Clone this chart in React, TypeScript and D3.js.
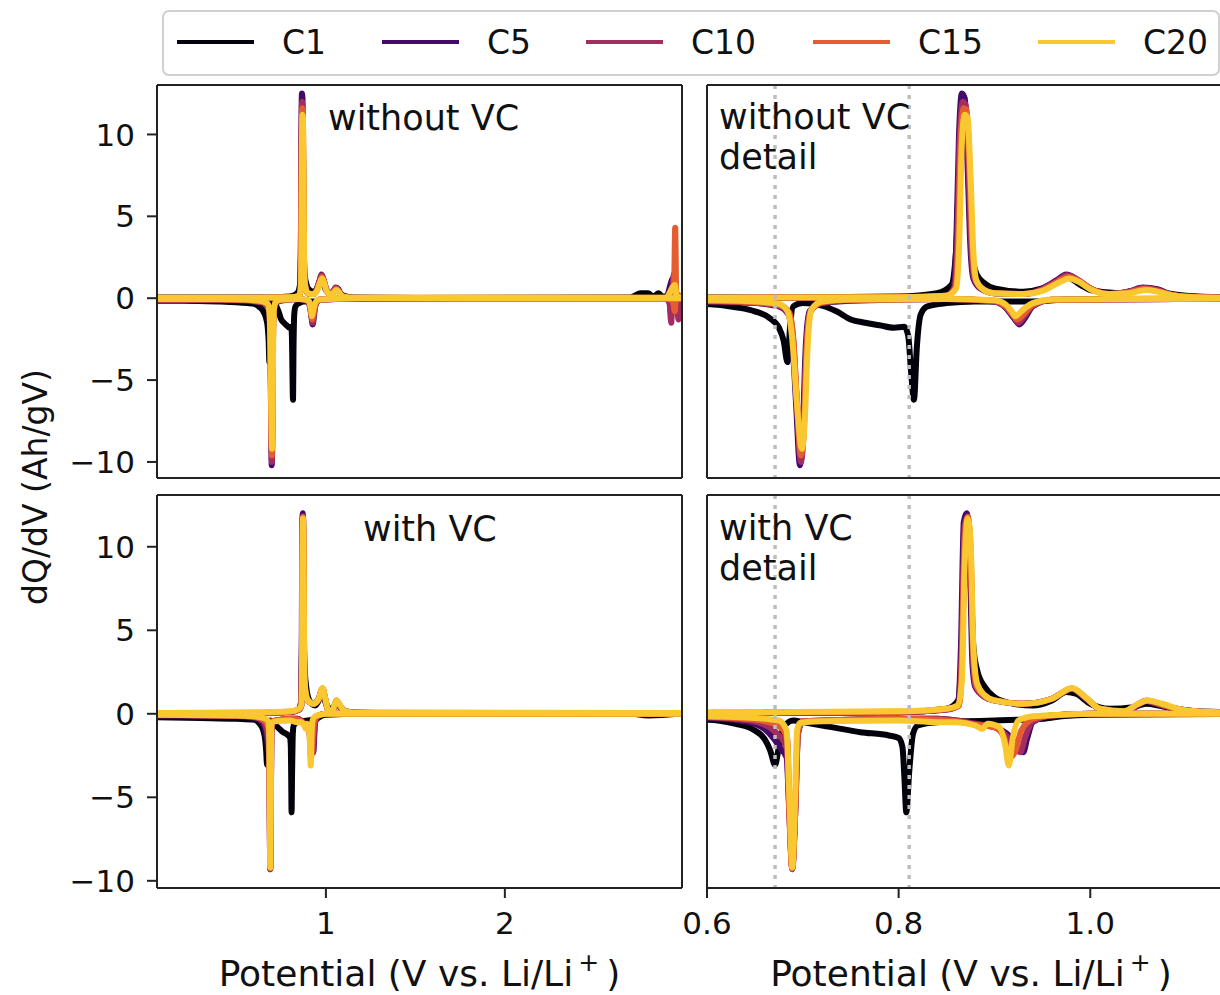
import React from 'react';
import * as d3 from 'd3';

type Pt = [number, number];

// ---------------- data ----------------
const CYCLES = ['C1', 'C5', 'C10', 'C15', 'C20'];
const Y_TICKS = [-10, -5, 0, 5, 10];
const X_TICKS_FULL = [1, 2];
const X_TICKS_DETAIL = [0.6, 0.8, 1.0];
const MARKER_LINES = [0.671, 0.811];

// without VC, discharge (negative) and charge (positive) branches
const noVC_C1_dis: Pt[] = [[0.056,-0.15],[0.2,-0.15],[0.4,-0.2],[0.5,-0.25],[0.56,-0.3],[0.6,-0.35],[0.63,-0.55],[0.65,-0.8],[0.665,-1.2],[0.675,-1.8],[0.68,-2.6],[0.684,-3.9],[0.687,-1.5],[0.69,-0.5],[0.7,-0.3],[0.72,-0.45],[0.735,-0.8],[0.75,-1.3],[0.765,-1.5],[0.78,-1.65],[0.795,-1.8],[0.806,-1.75],[0.81,-2.3],[0.813,-4.5],[0.816,-6.2],[0.819,-3.0],[0.823,-1.0],[0.83,-0.5],[0.85,-0.3],[0.88,-0.2],[0.91,-0.2],[0.94,-0.2],[0.97,-0.1],[1.0,-0.05],[1.2,-0.03],[2.0,0],[2.99,0]];
const noVC_C1_chg: Pt[] = [[0.056,0.05],[0.5,0.05],[0.7,0.05],[0.8,0.1],[0.84,0.3],[0.855,0.8],[0.86,3],[0.864,9],[0.868,11.2],[0.872,9],[0.875,4],[0.878,2.2],[0.882,1.4],[0.89,0.9],[0.9,0.6],[0.93,0.4],[0.95,0.6],[0.965,1.0],[0.975,1.3],[0.99,0.8],[1.0,0.5],[1.03,0.3],[1.05,0.5],[1.065,0.5],[1.08,0.3],[1.1,0.15],[1.15,0.05],[1.5,0.02],[2.7,0.05],[2.76,0.3],[2.8,0.3],[2.83,0.1],[2.86,0.3],[2.88,0.1],[2.99,0.1]];
const noVC_C5_dis: Pt[] = [[0.056,-0.1],[0.4,-0.1],[0.55,-0.15],[0.6,-0.2],[0.65,-0.3],[0.675,-0.5],[0.685,-1.0],[0.689,-2.5],[0.693,-6.5],[0.697,-10.2],[0.7,-8],[0.703,-3],[0.707,-0.8],[0.72,-0.3],[0.75,-0.15],[0.85,-0.05],[0.9,-0.2],[0.912,-0.6],[0.92,-1.2],[0.926,-1.6],[0.932,-1.2],[0.94,-0.5],[0.96,-0.1],[1.2,0],[2.9,0],[2.92,-0.2],[2.93,-1.0],[2.935,-0.2],[2.99,0]];
const noVC_C5_chg: Pt[] = [[0.056,0.02],[0.6,0.02],[0.8,0.05],[0.85,0.15],[0.857,0.6],[0.86,3],[0.863,10],[0.866,12.5],[0.869,12.2],[0.872,8],[0.875,3],[0.878,1.2],[0.885,0.6],[0.9,0.3],[0.93,0.25],[0.95,0.6],[0.965,1.1],[0.975,1.45],[0.985,1.2],[1.0,0.6],[1.02,0.25],[1.04,0.4],[1.055,0.65],[1.07,0.55],[1.085,0.2],[1.1,0.1],[1.15,0.02],[2.9,0.02],[2.94,1.2],[2.95,0.1],[2.99,0.05]];
const noVC_C10_dis: Pt[] = [[0.056,-0.1],[0.4,-0.1],[0.55,-0.12],[0.6,-0.18],[0.65,-0.28],[0.675,-0.45],[0.686,-1.0],[0.69,-2.5],[0.694,-6.5],[0.698,-10.0],[0.701,-8],[0.704,-3],[0.708,-0.8],[0.72,-0.3],[0.75,-0.12],[0.85,-0.05],[0.9,-0.2],[0.912,-0.55],[0.92,-1.1],[0.925,-1.5],[0.931,-1.1],[0.94,-0.45],[0.96,-0.1],[1.2,0],[2.9,0],[2.92,-0.3],[2.93,-1.5],[2.935,-0.2],[2.96,-0.1],[2.97,-1.3],[2.975,-0.1],[2.99,0]];
const noVC_C10_chg: Pt[] = [[0.056,0.02],[0.6,0.02],[0.8,0.05],[0.85,0.15],[0.858,0.6],[0.861,3],[0.864,10],[0.867,12.0],[0.87,11.8],[0.873,8],[0.876,3],[0.879,1.2],[0.886,0.6],[0.9,0.3],[0.93,0.25],[0.95,0.55],[0.965,1.05],[0.976,1.4],[0.986,1.15],[1.0,0.6],[1.02,0.25],[1.04,0.4],[1.056,0.62],[1.07,0.5],[1.085,0.2],[1.1,0.1],[1.15,0.02],[2.9,0.02],[2.935,0.5],[2.945,1.5],[2.955,0.2],[2.99,0.1]];
const noVC_C15_dis: Pt[] = [[0.056,-0.08],[0.4,-0.08],[0.55,-0.1],[0.6,-0.15],[0.65,-0.25],[0.675,-0.4],[0.686,-0.9],[0.69,-2.5],[0.694,-6.5],[0.698,-9.6],[0.701,-8],[0.704,-3],[0.708,-0.8],[0.72,-0.25],[0.75,-0.1],[0.85,-0.05],[0.9,-0.15],[0.912,-0.5],[0.919,-1.0],[0.924,-1.3],[0.93,-1.0],[0.94,-0.4],[0.96,-0.1],[1.2,0],[2.9,0],[2.94,-0.2],[2.95,-0.8],[2.955,-0.1],[2.99,0]];
const noVC_C15_chg: Pt[] = [[0.056,0.03],[0.6,0.03],[0.8,0.06],[0.85,0.15],[0.859,0.6],[0.862,3],[0.865,10],[0.868,11.6],[0.871,11.5],[0.874,8],[0.877,3],[0.88,1.2],[0.887,0.6],[0.9,0.3],[0.93,0.25],[0.95,0.5],[0.966,1.0],[0.977,1.3],[0.987,1.1],[1.0,0.6],[1.02,0.25],[1.04,0.35],[1.057,0.58],[1.07,0.45],[1.085,0.2],[1.1,0.1],[1.15,0.03],[2.9,0.03],[2.945,0.3],[2.952,4.3],[2.958,0.3],[2.99,0.1]];
const noVC_C20_dis: Pt[] = [[0.056,-0.05],[0.4,-0.05],[0.55,-0.08],[0.6,-0.12],[0.65,-0.2],[0.675,-0.35],[0.684,-0.8],[0.689,-2.5],[0.694,-6.5],[0.699,-9.2],[0.702,-7.5],[0.705,-3],[0.709,-0.7],[0.72,-0.2],[0.75,-0.08],[0.85,-0.05],[0.9,-0.12],[0.912,-0.4],[0.918,-0.8],[0.922,-1.1],[0.928,-0.8],[0.94,-0.3],[0.96,-0.08],[1.2,0],[2.99,0]];
const noVC_C20_chg: Pt[] = [[0.056,0.03],[0.6,0.03],[0.8,0.06],[0.85,0.15],[0.86,0.6],[0.863,3],[0.866,9.5],[0.869,11.2],[0.872,11.0],[0.875,7.5],[0.878,2.8],[0.881,1.1],[0.888,0.55],[0.9,0.3],[0.93,0.25],[0.95,0.45],[0.967,0.95],[0.978,1.2],[0.988,1.0],[1.0,0.55],[1.02,0.25],[1.04,0.3],[1.058,0.5],[1.07,0.4],[1.085,0.18],[1.1,0.08],[1.15,0.03],[2.9,0.03],[2.95,0.8],[2.96,0.1],[2.99,0.05]];

// with VC
const VC_C1_dis: Pt[] = [[0.056,-0.2],[0.3,-0.25],[0.5,-0.3],[0.6,-0.35],[0.63,-0.6],[0.65,-1.0],[0.66,-1.5],[0.666,-2.2],[0.671,-3.05],[0.675,-2.0],[0.68,-0.8],[0.69,-0.4],[0.7,-0.5],[0.73,-0.8],[0.76,-1.1],[0.79,-1.3],[0.8,-1.45],[0.804,-2.0],[0.806,-3.8],[0.808,-5.9],[0.811,-3.5],[0.815,-1.2],[0.82,-0.7],[0.84,-0.5],[0.87,-0.45],[0.9,-0.4],[0.93,-0.35],[0.95,-0.3],[0.97,-0.15],[1.0,-0.05],[1.2,0],[2.99,0]];
const VC_C1_chg: Pt[] = [[0.056,0.02],[0.6,0.05],[0.8,0.1],[0.85,0.3],[0.862,0.8],[0.866,4],[0.869,9.5],[0.872,10.5],[0.875,8],[0.878,4],[0.882,2.6],[0.89,1.6],[0.9,1.0],[0.92,0.6],[0.94,0.5],[0.96,0.8],[0.975,1.3],[0.985,1.2],[1.0,0.6],[1.02,0.3],[1.045,0.4],[1.058,0.6],[1.075,0.45],[1.1,0.2],[1.15,0.1],[1.5,0.02],[2.7,0.02],[2.8,-0.1],[2.99,0.02]];
const VC_C5_dis: Pt[] = [[0.056,-0.1],[0.5,-0.15],[0.6,-0.25],[0.64,-0.45],[0.66,-0.9],[0.67,-1.5],[0.677,-2.1],[0.683,-2.6],[0.686,-6],[0.689,-9.3],[0.692,-6],[0.695,-1.2],[0.7,-0.45],[0.75,-0.35],[0.8,-0.3],[0.84,-0.3],[0.86,-0.4],[0.88,-0.6],[0.9,-0.8],[0.915,-1.3],[0.925,-2.0],[0.93,-2.3],[0.934,-1.5],[0.94,-0.5],[0.96,-0.1],[1.0,0],[2.99,0]];
const VC_C5_chg: Pt[] = [[0.056,0.02],[0.6,0.05],[0.8,0.1],[0.85,0.25],[0.862,0.5],[0.865,4],[0.868,11.5],[0.871,12.0],[0.874,10],[0.877,3],[0.88,1.6],[0.89,1.0],[0.9,0.8],[0.93,0.6],[0.96,0.9],[0.981,1.5],[0.995,0.9],[1.01,0.3],[1.03,0.1],[1.05,0.5],[1.058,0.75],[1.07,0.6],[1.09,0.3],[1.12,0.1],[1.15,0.05],[2.99,0.02]];
const VC_C10_dis: Pt[] = [[0.056,-0.08],[0.5,-0.12],[0.6,-0.2],[0.645,-0.4],[0.665,-0.8],[0.675,-1.3],[0.683,-2.0],[0.686,-6],[0.689,-9.3],[0.692,-6],[0.695,-1.1],[0.7,-0.45],[0.75,-0.35],[0.8,-0.3],[0.84,-0.3],[0.86,-0.4],[0.88,-0.6],[0.9,-0.8],[0.912,-1.3],[0.922,-2.1],[0.927,-2.3],[0.932,-1.4],[0.94,-0.45],[0.96,-0.1],[1.0,0],[2.99,0]];
const VC_C10_chg: Pt[] = [[0.056,0.03],[0.6,0.05],[0.8,0.1],[0.85,0.25],[0.863,0.5],[0.866,4],[0.869,11.3],[0.872,11.8],[0.875,9.5],[0.878,3],[0.881,1.6],[0.89,1.0],[0.9,0.8],[0.93,0.6],[0.96,0.9],[0.981,1.5],[0.995,0.95],[1.01,0.3],[1.035,0.12],[1.05,0.55],[1.058,0.78],[1.07,0.6],[1.09,0.3],[1.12,0.1],[1.15,0.05],[2.99,0.02]];
const VC_C15_dis: Pt[] = [[0.056,-0.06],[0.5,-0.1],[0.6,-0.18],[0.65,-0.35],[0.67,-0.6],[0.68,-1.0],[0.684,-1.6],[0.686,-6],[0.689,-9.25],[0.692,-6],[0.695,-1.0],[0.7,-0.45],[0.75,-0.35],[0.8,-0.3],[0.84,-0.35],[0.86,-0.45],[0.88,-0.65],[0.9,-0.8],[0.91,-1.4],[0.916,-2.6],[0.922,-2.2],[0.928,-1.0],[0.94,-0.3],[0.96,-0.1],[1.0,0],[2.99,0]];
const VC_C15_chg: Pt[] = [[0.056,0.04],[0.6,0.06],[0.8,0.12],[0.85,0.28],[0.863,0.5],[0.866,3],[0.869,10.5],[0.872,11.8],[0.875,10],[0.878,3.5],[0.881,1.7],[0.89,1.05],[0.9,0.8],[0.93,0.6],[0.96,0.9],[0.981,1.52],[0.995,0.98],[1.01,0.3],[1.035,0.13],[1.05,0.58],[1.059,0.8],[1.072,0.6],[1.09,0.3],[1.12,0.1],[1.15,0.06],[2.99,0.04]];
const VC_C20_dis: Pt[] = [[0.056,-0.05],[0.5,-0.1],[0.6,-0.15],[0.65,-0.25],[0.675,-0.4],[0.683,-1.0],[0.686,-5],[0.689,-9.2],[0.692,-5],[0.694,-1.0],[0.697,-0.55],[0.72,-0.45],[0.8,-0.4],[0.84,-0.5],[0.86,-0.5],[0.88,-0.7],[0.887,-0.9],[0.893,-0.6],[0.905,-0.8],[0.911,-1.8],[0.915,-3.1],[0.919,-1.5],[0.925,-0.4],[0.94,-0.15],[0.97,-0.05],[1.0,0],[2.99,0]];
const VC_C20_chg: Pt[] = [[0.056,0.05],[0.6,0.08],[0.8,0.15],[0.85,0.3],[0.862,0.5],[0.866,2],[0.869,9],[0.872,11.7],[0.875,10.5],[0.878,4],[0.882,1.8],[0.89,1.1],[0.9,0.8],[0.93,0.6],[0.96,0.9],[0.981,1.55],[0.995,1.0],[1.01,0.3],[1.035,0.15],[1.05,0.6],[1.06,0.8],[1.075,0.6],[1.1,0.2],[1.15,0.08],[2.99,0.05]];

const NO_VC = [
  [noVC_C1_dis, noVC_C1_chg],
  [noVC_C5_dis, noVC_C5_chg],
  [noVC_C10_dis, noVC_C10_chg],
  [noVC_C15_dis, noVC_C15_chg],
  [noVC_C20_dis, noVC_C20_chg],
];
const WITH_VC = [
  [VC_C1_dis, VC_C1_chg],
  [VC_C5_dis, VC_C5_chg],
  [VC_C10_dis, VC_C10_chg],
  [VC_C15_dis, VC_C15_chg],
  [VC_C20_dis, VC_C20_chg],
];

// ---------------- style ----------------
const FONT = 'DejaVu Sans, sans-serif';
const CMAP_POS = [0.02, 0.21, 0.44, 0.63, 0.87];
const COLORS = CMAP_POS.map((t) => d3.interpolateInferno(t));
const LINE_W = 6;

type PanelCfg = {
  id: string;
  x: number; y: number; w: number; h: number;
  xDomain: [number, number];
  yDomain: [number, number];
  data: Pt[][][];
  label: string[];
  labelX: number; labelY: number;
  xTicks: number[] | null;
  xFmt?: (v: number) => string;
  yTicks: boolean;
  markers: boolean;
};

const PANELS: PanelCfg[] = [
  { id: 'tl', x: 157, y: 85, w: 525, h: 393, xDomain: [0.056, 2.99], yDomain: [-10.98, 13.02], data: NO_VC,
    label: ['without VC'], labelX: 328, labelY: 130, xTicks: null, yTicks: true, markers: false },
  { id: 'tr', x: 707, y: 85, w: 527, h: 393, xDomain: [0.6, 1.15], yDomain: [-10.98, 13.02], data: NO_VC,
    label: ['without VC', 'detail'], labelX: 719, labelY: 129, xTicks: null, yTicks: false, markers: true },
  { id: 'bl', x: 157, y: 495, w: 525, h: 393, xDomain: [0.056, 2.99], yDomain: [-10.43, 13.1], data: WITH_VC,
    label: ['with VC'], labelX: 363, labelY: 541, xTicks: X_TICKS_FULL, xFmt: (v) => d3.format('d')(v), yTicks: true, markers: false },
  { id: 'br', x: 707, y: 495, w: 527, h: 393, xDomain: [0.6, 1.15], yDomain: [-10.43, 13.1], data: WITH_VC,
    label: ['with VC', 'detail'], labelX: 719, labelY: 540, xTicks: X_TICKS_DETAIL, xFmt: (v) => d3.format('.1f')(v), yTicks: false, markers: true },
];

const minus = (s: string) => s.replace('-', '\u2212');

function Panel({ cfg }: { cfg: PanelCfg }) {
  const xs = d3.scaleLinear().domain(cfg.xDomain).range([cfg.x, cfg.x + cfg.w]);
  const ys = d3.scaleLinear().domain(cfg.yDomain).range([cfg.y + cfg.h, cfg.y]);
  const line = d3.line<Pt>().x((d) => xs(d[0])).y((d) => ys(d[1])).curve(d3.curveMonotoneX);
  const clipId = `clip-${cfg.id}`;
  const bottom = cfg.y + cfg.h;
  return (
    <g>
      <defs>
        <clipPath id={clipId}>
          <rect x={cfg.x} y={cfg.y} width={cfg.w} height={cfg.h} />
        </clipPath>
      </defs>
      <g clipPath={`url(#${clipId})`}>
        {cfg.data.map((branches, ci) =>
          branches.map((pts, bi) => (
            <path key={`${ci}-${bi}`} d={line(pts) || ''} fill="none" stroke={COLORS[ci]}
              strokeWidth={LINE_W} strokeLinejoin="round" strokeLinecap="round" />
          ))
        )}
        {cfg.markers && MARKER_LINES.map((v) => (
          <line key={v} x1={xs(v)} x2={xs(v)} y1={cfg.y} y2={bottom} stroke="#bdbdbd"
            strokeWidth={3.5} strokeDasharray="4,6" />
        ))}
      </g>
      {cfg.label.map((t, i) => (
        <text key={t} x={cfg.labelX} y={cfg.labelY + i * 40} fontFamily={FONT} fontSize={35} fill="#111">{t}</text>
      ))}
      {/* spines */}
      <g stroke="#222" strokeWidth={2} fill="none">
        <line x1={cfg.x} x2={cfg.x} y1={cfg.y} y2={bottom} />
        <line x1={cfg.x} x2={cfg.x + cfg.w} y1={bottom} y2={bottom} />
        <line x1={cfg.x} x2={cfg.x + cfg.w} y1={cfg.y} y2={cfg.y} />
        <line x1={cfg.x + cfg.w} x2={cfg.x + cfg.w} y1={cfg.y} y2={bottom} />
      </g>
      {cfg.yTicks && Y_TICKS.map((v) => (
        <g key={v}>
          <line x1={cfg.x - 10} x2={cfg.x} y1={ys(v)} y2={ys(v)} stroke="#222" strokeWidth={2} />
          <text x={cfg.x - 22} y={ys(v)} dy="0.36em" textAnchor="end" fontFamily={FONT} fontSize={31} fill="#111">
            {minus(d3.format('d')(v))}
          </text>
        </g>
      ))}
      {cfg.xTicks && cfg.xTicks.map((v) => (
        <g key={v}>
          <line x1={xs(v)} x2={xs(v)} y1={bottom} y2={bottom + 10} stroke="#222" strokeWidth={2} />
          <text x={xs(v)} y={bottom + 46} textAnchor="middle" fontFamily={FONT} fontSize={31} fill="#111">
            {cfg.xFmt ? cfg.xFmt(v) : String(v)}
          </text>
        </g>
      ))}
    </g>
  );
}

function XLabel({ cx }: { cx: number }) {
  return (
    <text x={cx} y={986} textAnchor="middle" fontFamily={FONT} fontSize={36} fill="#111">
      Potential (V vs. Li/Li
      <tspan fontSize={25} dy={-15}>{'\u2009+'}</tspan>
      <tspan dy={15}>{'\u2009)'}</tspan>
    </text>
  );
}

function Legend() {
  const lineStarts = [177, 382, 586, 813, 1038];
  return (
    <g>
      <rect x={163} y={11} width={1056} height={64} rx={6} ry={6} fill="#fff" fillOpacity={0.8} stroke="#d0d0d0" strokeWidth={2} />
      {CYCLES.map((c, i) => (
        <g key={c}>
          <line x1={lineStarts[i]} x2={lineStarts[i] + 77} y1={42} y2={42} stroke={COLORS[i]} strokeWidth={4} />
          <text x={lineStarts[i] + 105} y={54} fontFamily={FONT} fontSize={33} fill="#111">{c}</text>
        </g>
      ))}
    </g>
  );
}

export default function App() {
  return (
    <svg width={1220} height={995} style={{ position: 'absolute', left: 0, top: 0, background: '#fff' }}>
      <rect x={0} y={0} width={1220} height={995} fill="#fff" />
      {PANELS.map((p) => <Panel key={p.id} cfg={p} />)}
      <text transform="translate(35,487) rotate(-90)" textAnchor="middle" dominantBaseline="central"
        fontFamily={FONT} fontSize={33} fill="#111">dQ/dV (Ah/gV)</text>
      <XLabel cx={419.5} />
      <XLabel cx={971} />
      <Legend />
    </svg>
  );
}
